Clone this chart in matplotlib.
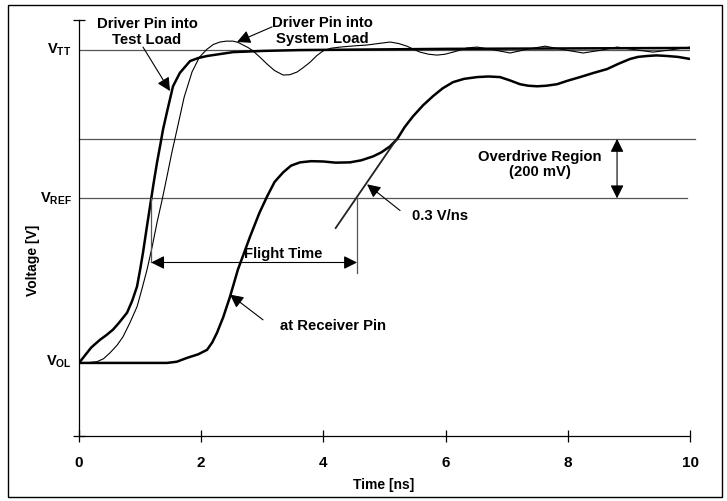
import matplotlib
matplotlib.use('Agg')
import matplotlib.pyplot as plt
from matplotlib.patches import Rectangle

plt.rcParams['font.family'] = ['Liberation Sans', 'DejaVu Sans']
plt.rcParams['font.weight'] = 'bold'
plt.rcParams['mathtext.fontset'] = 'custom'
plt.rcParams['mathtext.rm'] = 'Liberation Sans:bold'
plt.rcParams['mathtext.bf'] = 'Liberation Sans:bold'

# reference levels [V]
v_ol, v_ref, v_od, v_tt = 0.25, 0.8, 1.0, 1.3

# driver pin into test load (thick)
t_test = [0, 0.1, 0.2, 0.344, 0.45, 0.556, 0.65, 0.786, 0.87, 0.949, 1.0, 1.047,
          1.1, 1.162, 1.22, 1.277, 1.33, 1.375, 1.45, 1.538, 1.65, 1.817, 1.95,
          2.095, 2.52, 3.0, 3.62, 6.0, 10.0]
v_test = [0.246, 0.272, 0.298, 0.324, 0.34, 0.358, 0.38, 0.415, 0.455, 0.503, 0.56,
          0.617, 0.69, 0.773, 0.85, 0.921, 0.98, 1.032, 1.10, 1.177, 1.222, 1.262,
          1.272, 1.279, 1.292, 1.296, 1.299, 1.303, 1.306]

# driver pin into system load (thin)
t_sys = [0, 0.15, 0.29, 0.4, 0.507, 0.62, 0.72, 0.83, 0.949, 1.03, 1.113, 1.2,
         1.277, 1.36, 1.44, 1.52, 1.604, 1.72, 1.849, 1.97, 2.095, 2.2, 2.308,
         2.41, 2.52, 2.6, 2.684, 2.77, 2.848, 2.96, 3.077, 3.2, 3.339, 3.45, 3.568,
         3.67, 3.781, 3.89, 3.993, 4.12, 4.272, 4.5, 4.714, 4.9, 5.09, 5.23, 5.368,
         5.47, 5.581, 5.72, 5.859, 5.99, 6.121, 6.35, 6.514, 6.78, 7.054, 7.34,
         7.627, 7.94, 8.249, 8.53, 8.805, 9.1, 9.394, 9.7, 10.0]
v_sys = [0.246, 0.247, 0.25, 0.26, 0.28, 0.305, 0.334, 0.38, 0.435, 0.495, 0.56,
         0.64, 0.719, 0.795, 0.874, 0.955, 1.032, 1.14, 1.225, 1.275, 1.302, 1.318,
         1.326, 1.329, 1.329, 1.325, 1.316, 1.307, 1.296, 1.275, 1.252, 1.23, 1.215,
         1.216, 1.225, 1.24, 1.258, 1.28, 1.296, 1.305, 1.309, 1.313, 1.316, 1.321,
         1.326, 1.321, 1.312, 1.302, 1.292, 1.285, 1.282, 1.285, 1.292, 1.306,
         1.309, 1.300, 1.289, 1.302, 1.312, 1.300, 1.289, 1.298, 1.309, 1.300,
         1.292, 1.300, 1.309]

# at receiver pin (thick)
t_rx = [0, 1.44, 1.6, 1.768, 1.95, 2.095, 2.18, 2.259, 2.36, 2.471, 2.6, 2.799,
        2.95, 3.077, 3.2, 3.339, 3.47, 3.617, 3.8, 3.993, 4.2, 4.435, 4.62, 4.812,
        4.95, 5.09, 5.205, 5.33, 5.466, 5.63, 5.794, 5.95, 6.121, 6.3, 6.514, 6.7,
        6.89, 7.05, 7.218, 7.35, 7.496, 7.65, 7.823, 8.0, 8.2, 8.42, 8.642, 8.83,
        9.018, 9.15, 9.296, 9.45, 9.624, 9.8, 10.0]
v_rx = [0.246, 0.246, 0.25, 0.263, 0.275, 0.29, 0.315, 0.348, 0.40, 0.469, 0.56,
        0.671, 0.75, 0.806, 0.855, 0.887, 0.91, 0.921, 0.925, 0.924, 0.92, 0.921,
        0.928, 0.941, 0.955, 0.975, 0.999, 1.04, 1.076, 1.113, 1.144, 1.17, 1.191,
        1.202, 1.208, 1.21, 1.208, 1.197, 1.184, 1.179, 1.177, 1.179, 1.184,
        1.196, 1.208, 1.222, 1.235, 1.253, 1.269, 1.276, 1.279, 1.281, 1.279,
        1.276, 1.269]

# 0.3 V/ns slope line
t_slope = [4.2, 5.2]
v_slope = [0.7, 1.0]

fig = plt.figure(figsize=(7.27, 5.01), dpi=100)
ax = fig.add_axes([0.1087, 0.1297, 0.8405, 0.8303])

# frame round the whole picture
fig.patches.append(Rectangle((8 / 727, 4 / 501), 714 / 727, 492 / 501,
                             transform=fig.transFigure, fill=False,
                             edgecolor='black', lw=1.0))

# level lines
ax.plot([0, 10], [v_tt, v_tt], color='#555555', lw=0.9)
ax.plot([0, 10.08], [v_od, v_od], color='#555555', lw=0.9, clip_on=False)
ax.plot([0, 9.95], [v_ref, v_ref], color='#555555', lw=0.9)

ax.plot(t_sys, v_sys, color='black', lw=0.8)
ax.plot(t_test, v_test, color='black', lw=1.8)
ax.plot(t_rx, v_rx, color='black', lw=1.8)
ax.plot(t_slope, v_slope, color='#222222', lw=1.3)

# flight time
ax.plot([1.18, 1.18], [v_ref, 0.584], color='#555555', lw=0.9)
ax.plot([4.55, 4.55], [v_ref, 0.55], color='#555555', lw=0.9)
ax.annotate('', xy=(1.18, 0.584), xytext=(4.55, 0.584),
            arrowprops=dict(arrowstyle='<|-|>', color='black', lw=0.8,
                            mutation_scale=20, shrinkA=0, shrinkB=0))
ax.text(3.34, 0.611, 'Flight Time', ha='center', va='center', fontsize=10.7)

# overdrive region
ax.annotate('', xy=(8.805, v_od), xytext=(8.805, v_ref),
            arrowprops=dict(arrowstyle='<|-|>', color='black', lw=0.8,
                            mutation_scale=20, shrinkA=0, shrinkB=0))
ax.text(7.545, 0.914, 'Overdrive Region\n(200 mV)', ha='center', va='center',
        fontsize=10.7, linespacing=1.15)

arrow = dict(arrowstyle='-|>', color='black', lw=0.8, mutation_scale=20,
             shrinkA=0, shrinkB=0)
ax.text(1.113, 1.36, 'Driver Pin into\nTest Load', ha='center', va='center',
        fontsize=10.7, linespacing=1.15)
ax.annotate('', xy=(1.489, 1.161), xytext=(1.047, 1.309), arrowprops=arrow)
ax.text(3.977, 1.363, 'Driver Pin into\nSystem Load', ha='center', va='center',
        fontsize=10.7, linespacing=1.15)
ax.annotate('', xy=(2.586, 1.326), xytext=(3.159, 1.377), arrowprops=arrow)
ax.text(5.45, 0.742, '0.3 V/ns', ha='left', va='center', fontsize=10.7)
ax.annotate('', xy=(4.714, 0.847), xytext=(5.254, 0.759), arrowprops=arrow)
ax.text(3.29, 0.371, 'at Receiver Pin', ha='left', va='center', fontsize=10.7)
ax.annotate('', xy=(2.471, 0.476), xytext=(3.011, 0.391), arrowprops=arrow)

# voltage level labels
for lab, val in [(r'$\mathbf{V}_{\mathbf{TT}}$', v_tt),
                 (r'$\mathbf{V}_{\mathbf{REF}}$', v_ref),
                 (r'$\mathbf{V}_{\mathbf{OL}}$', v_ol)]:
    ax.text(-0.12, val, lab, ha='right', va='center', fontsize=10.5)

ax.set_xlim(0, 10)
ax.set_ylim(0, 1.4)
ax.set_xticks([0, 2, 4, 6, 8, 10])
ax.set_yticks([0, 1.4])
ax.set_yticklabels([])
ax.tick_params(direction='inout', length=9, width=0.9, labelsize=11, pad=10)
for s in ['top', 'right']:
    ax.spines[s].set_visible(False)
for s in ['left', 'bottom']:
    ax.spines[s].set_linewidth(0.9)

fig.text(384 / 727, 1 - 485 / 501, 'Time [ns]', ha='center', va='center',
         fontsize=10)
fig.text(33 / 727, 1 - 260 / 501, 'Voltage [V]', ha='center', va='center',
         rotation=90, fontsize=10)

fig.savefig('out.png', dpi=100)
